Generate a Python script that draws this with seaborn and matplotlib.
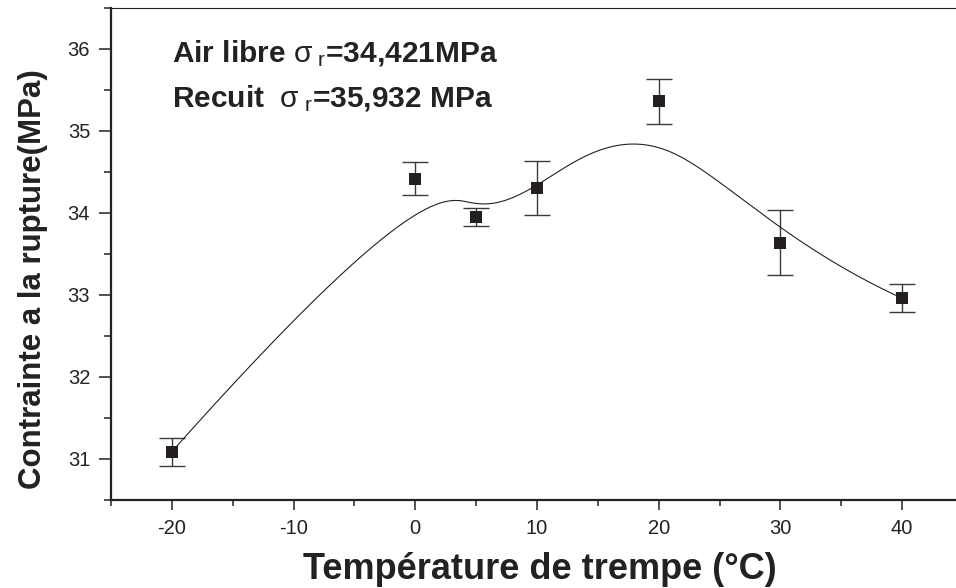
import numpy as np
import pandas as pd
import matplotlib
matplotlib.use("Agg")
import matplotlib.pyplot as plt
from matplotlib.ticker import MultipleLocator
import seaborn as sns

# Quench temperature (°C), tensile strength at rupture (MPa) and its spread
temperature = [-20, 0, 5, 10, 20, 30, 40]
contrainte = [31.09, 34.42, 33.95, 34.30, 35.36, 33.64, 32.96]
erreur = [0.17, 0.20, 0.11, 0.33, 0.27, 0.40, 0.17]

x_ticks = [-20, -10, 0, 10, 20, 30, 40]
y_ticks = [31, 32, 33, 34, 35, 36]

note_air = "Air libre $\\mathrm{\\sigma}_{\\ \\mathrm{r}}$=34,421MPa"
note_recuit = "Recuit  $\\mathrm{\\sigma}_{\\ \\mathrm{r}}$=35,932 MPa"


def bspline(px, py, degree=3, samples=400):
    """Clamped uniform B-spline using the measured points as control points."""
    P = np.column_stack([px, py]).astype(float)
    n = len(P)
    inner = np.arange(1, n - degree)
    knots = np.concatenate([np.zeros(degree + 1), inner,
                            np.full(degree + 1, n - degree)]).astype(float)
    t = np.linspace(0, n - degree, samples)
    t[-1] -= 1e-9
    # Cox-de Boor recursion
    N = np.zeros((samples, len(knots) - 1))
    for i in range(len(knots) - 1):
        N[:, i] = (t >= knots[i]) & (t < knots[i + 1])
    for k in range(1, degree + 1):
        Nk = np.zeros((samples, len(knots) - 1 - k))
        for i in range(len(knots) - 1 - k):
            d1 = knots[i + k] - knots[i]
            d2 = knots[i + k + 1] - knots[i + 1]
            a = (t - knots[i]) / d1 * N[:, i] if d1 > 0 else 0
            b = (knots[i + k + 1] - t) / d2 * N[:, i + 1] if d2 > 0 else 0
            Nk[:, i] = a + b
        N = Nk
    curve = N @ P
    return curve[:, 0], curve[:, 1]


sns.set_theme(style="ticks")
plt.rcParams["font.family"] = ["Liberation Sans", "DejaVu Sans"]
plt.rcParams["mathtext.fontset"] = "custom"
plt.rcParams["mathtext.rm"] = "Liberation Sans"
plt.rcParams["mathtext.it"] = "Liberation Sans:italic"
plt.rcParams["mathtext.bf"] = "Liberation Sans:bold"

df = pd.DataFrame({"T": temperature, "sigma": contrainte, "err": erreur})
sx, sy = bspline(df["T"].values, df["sigma"].values)
spline = pd.DataFrame({"T": sx, "sigma": sy})

fig = plt.figure(figsize=(9.56, 5.88), dpi=100)
ax = fig.add_axes([111 / 956, 88 / 588, 852 / 956, 492 / 588])

ax.errorbar(df["T"], df["sigma"], yerr=df["err"], fmt="none",
            ecolor="#3a3a3a", elinewidth=1.0, capsize=9.5, capthick=1.0,
            zorder=2)
sns.lineplot(data=spline, x="T", y="sigma", ax=ax, color="#222222",
             linewidth=0.8, sort=False, zorder=3)
sns.scatterplot(data=df, x="T", y="sigma", ax=ax, marker="s", s=80,
                color="#231f20", edgecolor="#231f20", linewidth=0, zorder=4)

ax.set_xlim(-25, 45)
ax.set_ylim(30.5, 36.5)
ax.set_xticks(x_ticks)
ax.set_yticks(y_ticks)
ax.set_xticklabels([str(v) for v in x_ticks])
ax.set_yticklabels([str(v) for v in y_ticks])
ax.xaxis.set_minor_locator(MultipleLocator(5))
ax.yaxis.set_minor_locator(MultipleLocator(0.5))

ax.spines["right"].set_visible(False)
ax.spines["top"].set_linewidth(0.8)
ax.spines["top"].set_color("#222222")
for side in ("left", "bottom"):
    ax.spines[side].set_linewidth(1.6)
    ax.spines[side].set_color("#222222")

ax.tick_params(axis="y", which="major", direction="out", length=9, width=1.1,
               pad=6, labelsize=14.5, colors="#222222")
ax.tick_params(axis="y", which="minor", direction="out", length=4.8, width=1.1,
               colors="#222222")
ax.tick_params(axis="x", which="major", direction="out", length=7, width=1.1,
               pad=7, labelsize=14.5, colors="#222222")
ax.tick_params(axis="x", which="minor", direction="out", length=4.3, width=1.1,
               colors="#222222")

ax.set_xlabel("Température de trempe (°C)", fontsize=26, fontweight="bold",
              color="#222222")
ax.xaxis.set_label_coords(0.503, -0.106)
ax.xaxis.label.set_verticalalignment("top")
ax.set_ylabel("Contrainte a la rupture(MPa)", fontsize=22.5, fontweight="bold",
              color="#222222")
ax.yaxis.set_label_coords(-0.074, 0.449)

ax.text(-20.0, 35.84, note_air, fontsize=21.5, fontweight="bold",
        color="#222222", ha="left", va="baseline")
ax.text(-20.0, 35.29, note_recuit, fontsize=21.5, fontweight="bold",
        color="#222222", ha="left", va="baseline")

fig.savefig("out.png", dpi=100)
